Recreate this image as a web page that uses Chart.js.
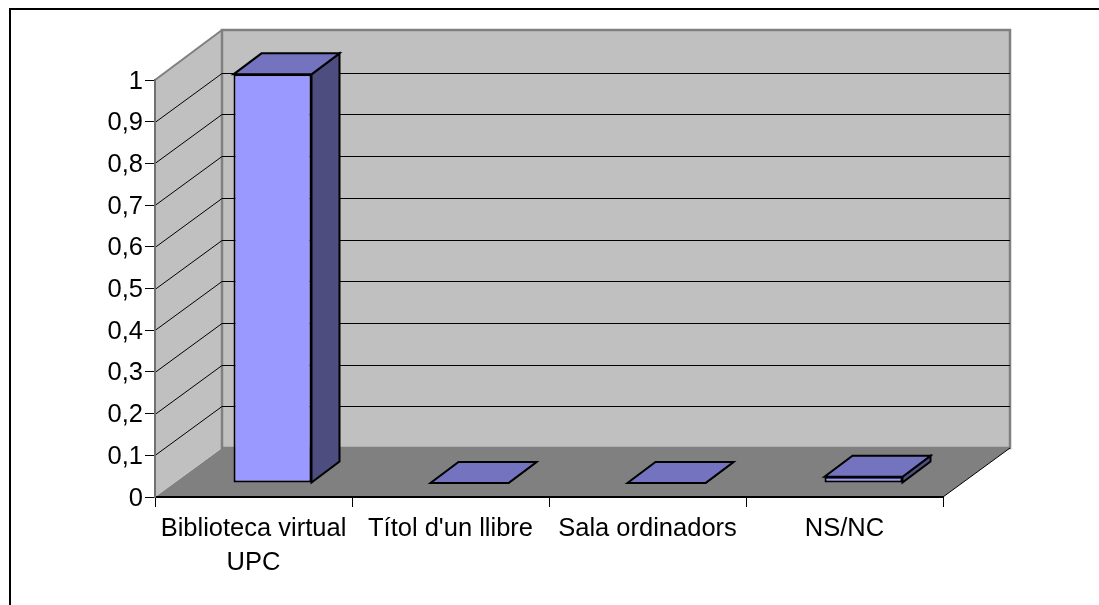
<!DOCTYPE html>
<html>
<head>
<meta charset="utf-8">
<style>
    html, body { margin: 0; padding: 0; background: #fff; overflow: hidden; }
    #frame { position: absolute; left: 9px; top: 8px; right: 0; bottom: 0; border-top: 2px solid #000; border-left: 2px solid #000; }
</style>
</head>
<body>
<canvas id="chart3d" width="1099" height="605" style="position:absolute;left:0;top:0"></canvas>
<div id="frame"></div>
<script src="https://cdn.jsdelivr.net/npm/chart.js@4"></script>
<script>
const categories = [['Biblioteca virtual', 'UPC'], "Títol d'un llibre", 'Sala ordinadors', 'NS/NC'];
const values = [0.98, 0, 0, 0.015];
const yTickLabels = ['0', '0,1', '0,2', '0,3', '0,4', '0,5', '0,6', '0,7', '0,8', '0,9', '1'];

// fake 3d: how far the back wall sits from the front plane, and the bars inside that depth
const wallDx = 67, wallDy = -49;
const barOffDx = 19, barOffDy = -14;
const barDepthDx = 28, barDepthDy = -21;

function poly(ctx, pts, fill, stroke, lw) {
    ctx.beginPath();
    pts.forEach((p, i) => i ? ctx.lineTo(p[0], p[1]) : ctx.moveTo(p[0], p[1]));
    ctx.closePath();
    if (fill) { ctx.fillStyle = fill; ctx.fill(); }
    if (stroke) { ctx.strokeStyle = stroke; ctx.lineWidth = lw; ctx.lineJoin = 'miter'; ctx.stroke(); }
}

const walls = {
    id: 'walls',
    afterLayout(chart) {
        // y labels sit a bit lower than canvas "middle" in the original
        const y = chart.scales.y, drawLabels = y.drawLabels;
        y.drawLabels = function (area) {
            chart.ctx.save();
            chart.ctx.translate(0, 1.5);
            drawLabels.call(this, area);
            chart.ctx.restore();
        };
    },
    beforeDraw(chart) {
        const ctx = chart.ctx, a = chart.chartArea, y = chart.scales.y;
        const L = a.left, R = a.right, T = y.getPixelForValue(1), B = y.getPixelForValue(0);
        ctx.save();
        // floor
        poly(ctx, [[L, B], [R, B], [R + wallDx, B + wallDy], [L + wallDx, B + wallDy]], '#808080');
        // side wall and back wall
        poly(ctx, [[L, T], [L + wallDx, T + wallDy - 1], [L + wallDx, B + wallDy], [L, B]], '#c0c0c0');
        poly(ctx, [[L + wallDx, T + wallDy - 1], [R + wallDx, T + wallDy - 1], [R + wallDx, B + wallDy], [L + wallDx, B + wallDy]], '#c0c0c0', '#808080', 2.5);
        // edges
        ctx.lineWidth = 2;
        ctx.strokeStyle = '#808080';
        ctx.beginPath();
        ctx.moveTo(L, T);
        ctx.lineTo(L + wallDx, T + wallDy - 1);
        ctx.stroke();
        ctx.lineWidth = 1;
        ctx.strokeStyle = '#000';
        ctx.beginPath();
        ctx.moveTo(R, B);
        ctx.lineTo(R + wallDx, B + wallDy);
        ctx.stroke();
        // gridlines run along the side wall then the back wall
        y.ticks.forEach((t) => {
            if (t.value === 0 || t.value >= 1) return;
            const py = Math.round(y.getPixelForValue(t.value)) + 0.5;
            ctx.beginPath();
            ctx.moveTo(L, py);
            ctx.lineTo(L + wallDx, py + wallDy);
            ctx.lineTo(R + wallDx, py + wallDy);
            ctx.stroke();
        });
        ctx.restore();
    },
    beforeDatasetDraw(chart, args) {
        const ctx = chart.ctx;
        ctx.save();
        ctx.translate(barOffDx, barOffDy);
        args.meta.data.forEach((bar) => {
            const x0 = bar.x - bar.width / 2, x1 = bar.x + bar.width / 2;
            const top = bar.y, base = bar.base;
            const dx = barDepthDx, dy = barDepthDy;
            poly(ctx, [[x1, top], [x1 + dx, top + dy], [x1 + dx, base + dy], [x1, base]], '#4d4d80', '#000', 2);
            poly(ctx, [[x0, top], [x1, top], [x1 + dx, top + dy], [x0 + dx, top + dy]], '#7373bf', '#000', 2);
        });
    },
    afterDatasetDraw(chart) {
        chart.ctx.restore();
    }
};

const axisFont = { family: '"Liberation Sans", Arial, sans-serif', size: 25.5 };

new Chart(document.getElementById('chart3d').getContext('2d'), {
    type: 'bar',
    plugins: [walls],
    data: {
        labels: categories,
        datasets: [{
            data: values,
            backgroundColor: '#9999ff',
            borderColor: '#000',
            borderWidth: 2,
            borderSkipped: false,
            barPercentage: 0.396,
            categoryPercentage: 1,
            clip: false
        }]
    },
    options: {
        responsive: false,
        animation: false,
        layout: { padding: { left: 0, top: 80, right: 156, bottom: 0 } },
        plugins: { legend: { display: false }, tooltip: { enabled: false } },
        scales: {
            x: {
                grid: { drawOnChartArea: false, color: '#000', tickLength: 10 },
                border: { color: '#000', width: 2 },
                ticks: { color: '#000', font: { ...axisFont, lineHeight: 1.33 }, maxRotation: 0, autoSkip: false, padding: 5 },
                afterFit(scale) { scale.height = 108; }
            },
            y: {
                min: 0,
                max: 1,
                grid: { drawOnChartArea: false, color: '#000', tickLength: 10 },
                border: { color: '#707070', width: 2 },
                ticks: {
                    color: '#000',
                    font: axisFont,
                    stepSize: 0.1,
                    padding: 2,
                    callback: (v, i) => yTickLabels[i]
                },
                afterFit(scale) { scale.width = 155; }
            }
        }
    }
});
</script>
</body>
</html>
